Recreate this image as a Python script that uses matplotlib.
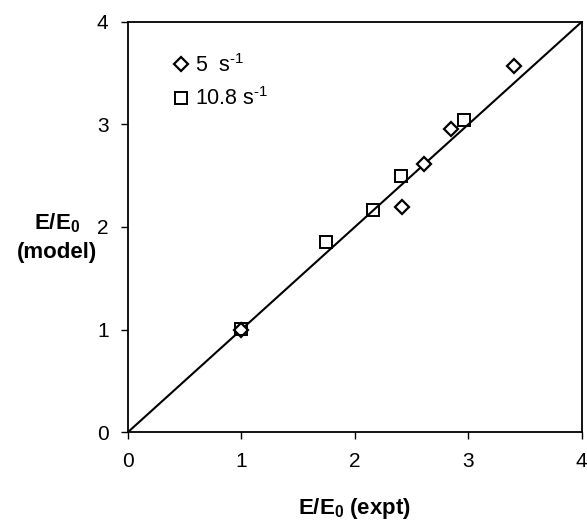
import matplotlib
matplotlib.use('Agg')
import matplotlib.pyplot as plt

plt.rcParams['font.family'] = ['Liberation Sans', 'DejaVu Sans']
plt.rcParams['mathtext.fontset'] = 'custom'
plt.rcParams['mathtext.rm'] = 'Liberation Sans'
plt.rcParams['mathtext.bf'] = 'Liberation Sans:bold'

# data
expt_5 = [1.00, 2.42, 2.61, 2.85, 3.40]
model_5 = [1.00, 2.19, 2.61, 2.96, 3.57]
expt_108 = [1.00, 1.75, 2.16, 2.41, 2.96]
model_108 = [1.01, 1.85, 2.17, 2.50, 3.04]
ticks = [0, 1, 2, 3, 4]

fig = plt.figure(figsize=(5.87, 5.2), dpi=100)
ax = fig.add_axes([0.218, 0.169, 0.773, 0.789])

ax.plot([0, 4], [0, 4], color='black', lw=1.5, zorder=2)
ax.plot(expt_5, model_5, ls='none', marker='D', ms=6.8, mfc='white',
        mec='black', mew=1.6, label='5  s$^{\\text{-1}}$', zorder=3)
ax.plot(expt_108, model_108, ls='none', marker='s', ms=8.5, mfc='none',
        mec='black', mew=1.4, label='10.8 s$^{\\text{-1}}$', zorder=3)

ax.set_xlim(0, 4)
ax.set_ylim(0, 4)
ax.set_xticks(ticks)
ax.set_yticks(ticks)
ax.tick_params(direction='out', length=5, width=1, labelsize=15, pad=9)
for sp in ax.spines.values():
    sp.set_linewidth(1.3)

ax.set_xlabel('E/E$_\\mathbf{0}$ (expt)', fontsize=16, fontweight='bold', labelpad=18)
ax.set_ylabel('E/E$_\\mathbf{0}$\n(model)', fontsize=16, fontweight='bold',
              rotation=0, ha='center', va='center', labelpad=0, linespacing=1.45)
ax.yaxis.set_label_coords(-0.156, 0.475)

ax.legend(loc='upper left', frameon=False, fontsize=15.5, handletextpad=0.15,
          borderaxespad=0.6, labelspacing=0.5, handlelength=1.0,
          bbox_to_anchor=(0.045, 0.975))

plt.savefig('out.png', dpi=100)
plt.close()
